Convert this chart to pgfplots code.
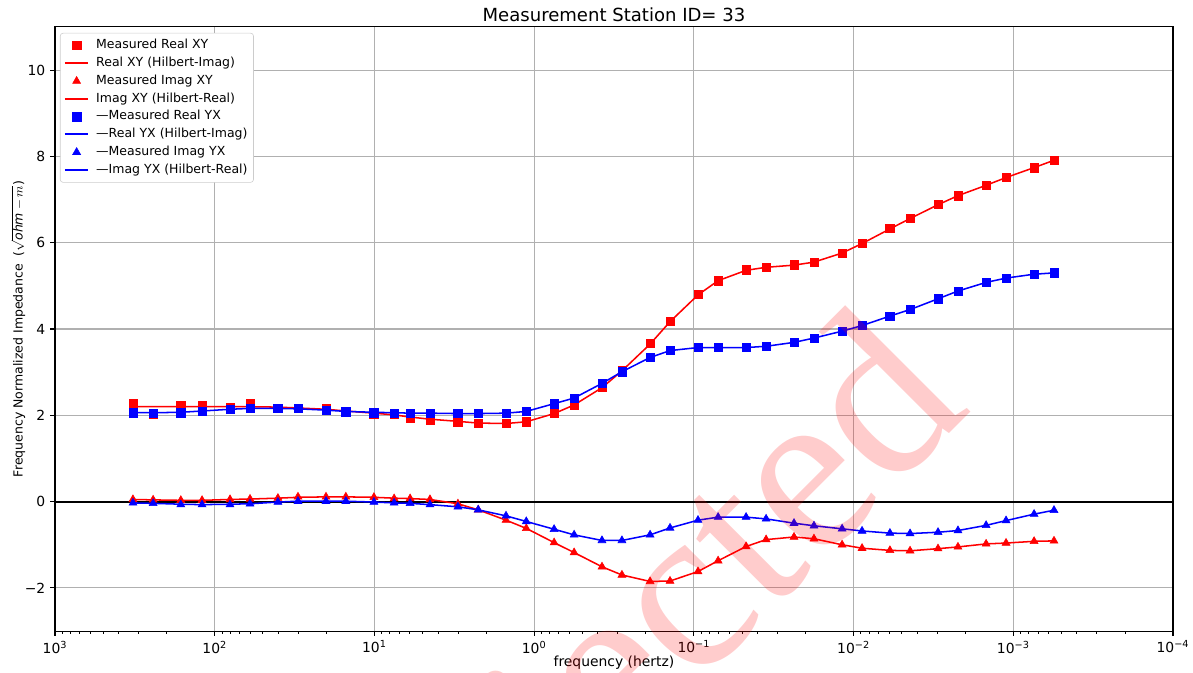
\documentclass[border=0pt]{standalone}
\usepackage{fontspec}
\setmainfont{DejaVu Sans}
\newfontfamily\wmfont{Liberation Serif}
\usepackage{pgfplots}
\pgfplotsset{compat=1.18}
\usepackage{pgfplotstable}

\definecolor{mred}{RGB}{255,0,0}
\definecolor{mblue}{RGB}{0,0,255}

% f (Hz), measured / Hilbert curves
\pgfplotstableread{
f        rxy  rxyh  ixy   ixyh  ryx  ryxh  iyx   iyxh
325      2.27 2.20  0.05  0.05  2.06 2.06  -0.03 -0.03
243      2.02 2.20  0.04  0.04  2.05 2.06  -0.04 -0.04
163      2.22 2.20  0.03  0.03  2.06 2.07  -0.07 -0.06
120      2.24 2.20  0.03  0.03  2.10 2.10  -0.07 -0.07
80.2     2.18 2.20  0.05  0.05  2.14 2.14  -0.07 -0.06
60.1     2.27 2.20  0.06  0.06  2.16 2.16  -0.05 -0.05
40.2     2.16 2.19  0.08  0.08  2.16 2.16  -0.01 -0.01
30.1     2.16 2.17  0.11  0.10  2.16 2.15  0.01  0.01
20.1     2.16 2.14  0.11  0.11  2.12 2.12  0.01  0.01
15.1     2.10 2.10  0.11  0.11  2.08 2.09  0.01  0.01
10.07    2.02 2.05  0.10  0.10  2.06 2.07  -0.01 -0.01
7.53     2.02 2.01  0.07  0.08  2.05 2.06  -0.03 -0.03
5.98     1.93 1.96  0.07  0.07  2.05 2.05  -0.04 -0.04
4.49     1.89 1.91  0.05  0.05  2.05 2.05  -0.07 -0.07
3.00     1.84 1.86  -0.05 -0.05 2.04 2.04  -0.12 -0.12
2.24     1.81 1.82  -0.19 -0.19 2.04 2.04  -0.19 -0.19
1.50     1.81 1.81  -0.43 -0.43 2.05 2.05  -0.33 -0.33
1.12     1.85 1.85  -0.62 -0.62 2.09 2.09  -0.46 -0.46
0.750    2.04 2.04  -0.95 -0.95 2.27 2.27  -0.64 -0.64
0.562    2.24 2.24  -1.18 -1.18 2.40 2.40  -0.77 -0.77
0.376    2.66 2.64  -1.51 -1.51 2.74 2.74  -0.90 -0.90
0.282    3.03 3.03  -1.70 -1.70 3.01 3.01  -0.90 -0.90
0.188    3.67 3.65  -1.85 -1.85 3.34 3.34  -0.77 -0.77
0.141    4.18 4.17  -1.84 -1.84 3.50 3.50  -0.61 -0.61
0.0942   4.80 4.79  -1.62 -1.62 3.57 3.57  -0.43 -0.43
0.0705   5.12 5.12  -1.37 -1.37 3.57 3.57  -0.36 -0.36
0.0471   5.37 5.36  -1.04 -1.04 3.57 3.57  -0.36 -0.36
0.0353   5.43 5.43  -0.88 -0.88 3.60 3.60  -0.40 -0.40
0.0236   5.49 5.48  -0.82 -0.82 3.69 3.69  -0.50 -0.50
0.0177   5.55 5.55  -0.86 -0.86 3.79 3.79  -0.56 -0.56
0.0118   5.76 5.76  -1.00 -1.00 3.95 3.95  -0.63 -0.63
0.00885  5.98 5.98  -1.08 -1.08 4.08 4.08  -0.68 -0.68
0.00592  6.33 6.32  -1.13 -1.13 4.30 4.30  -0.73 -0.73
0.00443  6.57 6.56  -1.14 -1.14 4.45 4.45  -0.74 -0.74
0.00296  6.89 6.88  -1.09 -1.09 4.70 4.70  -0.71 -0.71
0.00222  7.09 7.09  -1.05 -1.05 4.88 4.88  -0.67 -0.67
0.00148  7.33 7.33  -0.98 -0.98 5.08 5.08  -0.55 -0.55
0.00111  7.51 7.51  -0.96 -0.96 5.18 5.18  -0.44 -0.44
0.000741 7.74 7.74  -0.92 -0.92 5.27 5.27  -0.29 -0.29
0.000556 7.91 7.91  -0.91 -0.91 5.30 5.30  -0.20 -0.20
}\data

\begin{document}
\begin{tikzpicture}
\begin{axis}[
    name=ax,
    scale only axis,
    width=805pt, height=435pt,
    xmode=log, x dir=reverse,
    xmin=1e-4, xmax=1e3,
    ymin=-3, ymax=11,
    xtick={1e-4,1e-3,1e-2,1e-1,1,1e1,1e2,1e3},
    xticklabels={10\textsuperscript{−4},10\textsuperscript{−3},10\textsuperscript{−2},10\textsuperscript{−1},10\textsuperscript{0},10\textsuperscript{1},10\textsuperscript{2},10\textsuperscript{3}},
    minor xtick={2e-4,3e-4,4e-4,5e-4,6e-4,7e-4,8e-4,9e-4,
                 2e-3,3e-3,4e-3,5e-3,6e-3,7e-3,8e-3,9e-3,
                 2e-2,3e-2,4e-2,5e-2,6e-2,7e-2,8e-2,9e-2,
                 0.2,0.3,0.4,0.5,0.6,0.7,0.8,0.9,
                 2,3,4,5,6,7,8,9,
                 20,30,40,50,60,70,80,90,
                 200,300,400,500,600,700,800,900},
    ytick={-2,0,2,4,6,8,10},
    yticklabels={−2,0,2,4,6,8,10},
    tick pos=left, tick align=outside,
    major tick length=3.5pt, minor tick length=2pt,
    every tick/.style={black, line width=0.8pt},
    minor tick style={line width=0.6pt},
    grid=major,
    major grid style={black!31, line width=0.8pt},
    axis line style={line width=0.8pt},
    title={Measurement Station ID= 33},
    every axis title/.style={at={(axis description cs:0.5,1)}, anchor=base, yshift=3.9pt,
        font=\fontsize{13}{15}\selectfont},
    xlabel={frequency (hertz)},
    xlabel style={at={(axis description cs:0.5,-0.058)}, anchor=base},
    ylabel={Frequency Normalized Impedance \ (\(\sqrt{\mathit{ohm}-m}\))},
    ylabel style={at={(axis description cs:-0.033,0.5)}, rotate=0, anchor=center,
        font=\fontsize{9}{11}\selectfont},
    legend cell align=left,
    legend style={at={(axis description cs:0,1)}, anchor=north west,
        xshift=3.6pt, yshift=-4.3pt,
        draw=black!20, rounded corners=2pt, fill=white,
        font=\fontsize{9}{11}\selectfont,
        nodes={inner sep=1.8pt, text height=7pt, text depth=2.2pt},
        row sep=0pt, column sep=3pt, inner sep=2.5pt},
]
\addplot[black, line width=1.3pt, forget plot] coordinates {(1e3,0) (1e-4,0)};

\addplot[only marks, mark=square*, mark size=3pt, color=mred] table[x=f, y=rxy] {\data};
\addlegendentry{Measured Real XY}
\addplot[color=mred, line width=1.1pt, no markers, legend image post style={line width=1.5pt}] table[x=f, y=rxyh] {\data};
\addlegendentry{Real XY (Hilbert-Imag)}
\addplot[only marks, mark=triangle*, mark size=3.3pt, color=mred] table[x=f, y=ixy] {\data};
\addlegendentry{Measured Imag XY}
\addplot[color=mred, line width=1.1pt, no markers, legend image post style={line width=1.5pt}] table[x=f, y=ixyh] {\data};
\addlegendentry{Imag XY (Hilbert-Real)}
\addplot[only marks, mark=square*, mark size=3pt, color=mblue] table[x=f, y=ryx] {\data};
\addlegendentry{—Measured Real YX}
\addplot[color=mblue, line width=1.1pt, no markers, legend image post style={line width=1.5pt}] table[x=f, y=ryxh] {\data};
\addlegendentry{—Real YX (Hilbert-Imag)}
\addplot[only marks, mark=triangle*, mark size=3.3pt, color=mblue] table[x=f, y=iyx] {\data};
\addlegendentry{—Measured Imag YX}
\addplot[color=mblue, line width=1.1pt, no markers, legend image post style={line width=1.5pt}] table[x=f, y=iyxh] {\data};
\addlegendentry{—Imag YX (Hilbert-Real)}

\coordinate (wm) at (axis cs:1.79e-3,2.12);
\end{axis}
\node[overlay, anchor=base east, rotate=45, text=red, text opacity=0.2, inner sep=0pt,
      font=\wmfont\fontsize{170}{170}\selectfont] at (wm) {Rejected};
\pgfresetboundingbox
\path ([xshift=-39.6pt,yshift=-29.5pt]ax.south west) rectangle ([xshift=14.4pt,yshift=19.4pt]ax.north east);
\end{tikzpicture}
\end{document}
